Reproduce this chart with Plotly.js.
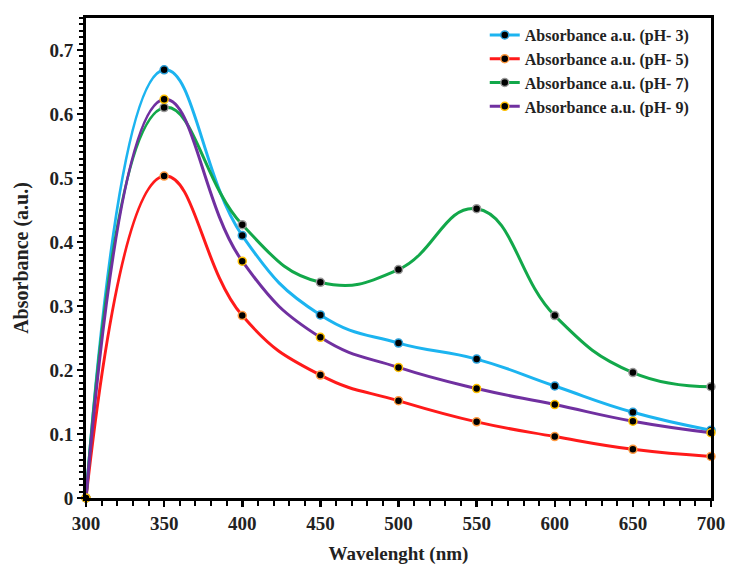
<!DOCTYPE html>
<html>
<head>
<meta charset="utf-8">
<script src="https://cdn.plot.ly/plotly-3.0.1.min.js"></script>
<style>
  body { margin: 0; background: #fff; }
  #plotly { width: 745px; height: 570px; }
</style>
</head>
<body>
<div id="plotly"></div>
<script>
// wavelengths (nm) and absorbance
var wavelength = [300, 350, 400, 450, 500, 550, 600, 650, 700];
var absPH3 = [0, 0.669, 0.410, 0.286, 0.242, 0.217, 0.175, 0.134, 0.106];
var absPH5 = [0, 0.503, 0.285, 0.192, 0.152, 0.119, 0.096, 0.076, 0.065];
var absPH7 = [0, 0.610, 0.427, 0.337, 0.357, 0.452, 0.285, 0.196, 0.174];
var absPH9 = [0, 0.623, 0.370, 0.251, 0.204, 0.171, 0.146, 0.120, 0.102];
var seriesNames = ['Absorbance a.u. (pH- 3)', 'Absorbance a.u. (pH- 5)',
                   'Absorbance a.u. (pH- 7)', 'Absorbance a.u. (pH- 9)'];

var serif = '"Liberation Serif", "Times New Roman", serif';

function makeTrace(y, name, lineColor, ringColor) {
  return {
    x: wavelength,
    y: y,
    type: 'scatter',
    mode: 'lines+markers',
    name: name,
    cliponaxis: false,
    line: { color: lineColor, width: 3, shape: 'spline', smoothing: 1.3 },
    marker: { color: '#000', size: 8, line: { color: ringColor, width: 1.5 } }
  };
}

var data = [
  makeTrace(absPH3, seriesNames[0], '#1cb4f0', '#2a9fd8'),
  makeTrace(absPH5, seriesNames[1], '#ff1a1a', '#ff9a40'),
  makeTrace(absPH7, seriesNames[2], '#12a84a', '#9a9a9a'),
  makeTrace(absPH9, seriesNames[3], '#7030a0', '#ffc000')
];

var layout = {
  width: 745,
  height: 570,
  margin: { l: 86, r: 34, t: 18, b: 72 },
  paper_bgcolor: '#fff',
  plot_bgcolor: '#fff',
  font: { family: serif, color: '#222' },
  showlegend: true,
  legend: {
    x: 0.638, y: 1.0, xanchor: 'left', yanchor: 'top',
    bgcolor: 'rgba(0,0,0,0)',
    font: { family: serif, size: 16, weight: 'bold', color: '#222' },
    itemwidth: 30
  },
  xaxis: {
    range: [300, 700],
    dtick: 50,
    showgrid: false,
    zeroline: false,
    showline: true, linecolor: '#000', linewidth: 3, mirror: true,
    ticks: 'outside', ticklen: 6, tickwidth: 2.5, tickcolor: '#000',
    minor: { dtick: 10, ticks: 'outside', ticklen: 5, tickwidth: 2, tickcolor: '#000' },
    tickfont: { family: serif, size: 19, weight: 'bold', color: '#222' },
    title: { text: 'Wavelenght (nm)', standoff: 14,
             font: { family: serif, size: 19, weight: 'bold', color: '#222' } }
  },
  yaxis: {
    range: [0, 0.75],
    dtick: 0.1,
    showgrid: false,
    zeroline: false,
    showline: true, linecolor: '#000', linewidth: 3, mirror: true,
    ticks: 'outside', ticklen: 6, tickwidth: 2.5, tickcolor: '#000',
    minor: { dtick: 0.01, ticks: 'outside', ticklen: 4, tickwidth: 2, tickcolor: '#000' },
    tickfont: { family: serif, size: 19, weight: 'bold', color: '#222' },
    title: { text: 'Absorbance (a.u.)', standoff: 16,
             font: { family: serif, size: 20, weight: 'bold', color: '#222' } }
  }
};

Plotly.newPlot('plotly', data, layout, { displayModeBar: false, staticPlot: true });
</script>
</body>
</html>
